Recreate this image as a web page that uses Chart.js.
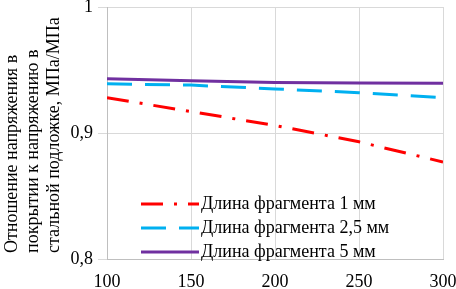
<!DOCTYPE html>
<html>
<head>
<meta charset="utf-8">
<script src="https://cdn.jsdelivr.net/npm/chart.js@4/dist/chart.umd.min.js"></script>
<style>
  html, body { margin: 0; padding: 0; background: #fff; }
  #wrap { width: 456px; height: 289px; position: relative; }
</style>
</head>
<body>
<div id="wrap"><canvas id="grafico"></canvas></div>
<script>
// длина участка, мм (ось X)
const x_vals = [100, 150, 200, 250, 300];
const serie_1mm = [0.928, 0.917, 0.906, 0.893, 0.877];
const serie_25mm = [0.939, 0.938, 0.935, 0.932, 0.928];
const serie_5mm = [0.943, 0.9415, 0.940, 0.9397, 0.9394];
const etiquetas = ["Длина фрагмента 1 мм", "Длина фрагмента 2,5 мм", "Длина фрагмента 5 мм"];
const titulo_y = ["Отношение напряжения в", "покрытии к напряжению в", "стальной подложке, МПа/МПа"];

const FUENTE = "Liberation Serif";
const TAM = 18;

const puntos = (ys) => x_vals.map((x, i) => ({ x: x, y: ys[i] }));

// leyenda dentro del área del gráfico + título del eje Y
const plugin_textos = {
  id: "textosPropios",
  afterDraw: (chart) => {
    const ctx = chart.ctx;
    const area = chart.chartArea;
    ctx.save();
    // título eje Y (rotado)
    ctx.font = TAM + "px '" + FUENTE + "'";
    ctx.fillStyle = "#000";
    ctx.textBaseline = "middle";
    ctx.textAlign = "left";
    titulo_y.forEach((linea, i) => {
      ctx.save();
      ctx.translate(12 + i * 21, 253);
      ctx.rotate(-Math.PI / 2);
      ctx.fillText(linea, 0, 0);
      ctx.restore();
    });
    // leyenda
    chart.data.datasets.forEach((ds, i) => {
      const y = 204 + i * 24;
      ctx.strokeStyle = ds.borderColor;
      ctx.lineWidth = ds.borderWidth;
      ctx.setLineDash(ds.borderDash || []);
      ctx.beginPath();
      ctx.moveTo(area.left + 34, y);
      ctx.lineTo(area.left + 92, y);
      ctx.stroke();
      ctx.setLineDash([]);
      ctx.fillStyle = "#000";
      ctx.fillText(ds.label, area.left + 94, y);
    });
    ctx.restore();
  },
};

function dibujar() {
  const ctx = document.getElementById("grafico").getContext("2d");
  new Chart(ctx, {
    type: "line",
    data: {
      datasets: [
        {
          label: etiquetas[0],
          data: puntos(serie_1mm),
          borderColor: "#ff0000",
          borderWidth: 3,
          borderDash: [22, 11, 3, 11],
          pointRadius: 0,
          fill: false,
        },
        {
          label: etiquetas[1],
          data: puntos(serie_25mm),
          borderColor: "#00b0f0",
          borderWidth: 3,
          borderDash: [25, 13],
          pointRadius: 0,
          fill: false,
        },
        {
          label: etiquetas[2],
          data: puntos(serie_5mm),
          borderColor: "#7030a0",
          borderWidth: 3,
          pointRadius: 0,
          fill: false,
        },
      ],
    },
    options: {
      responsive: true,
      maintainAspectRatio: false,
      animation: false,
      layout: { padding: { top: 7, right: 13, left: 0, bottom: 0 } },
      plugins: {
        legend: { display: false },
        tooltip: { enabled: false },
      },
      scales: {
        x: {
          type: "linear",
          min: 100,
          max: 300,
          ticks: {
            stepSize: 50,
            color: "#000",
            font: { family: FUENTE, size: TAM },
            padding: 12,
            maxRotation: 0,
          },
          grid: { color: "#d9d9d9", drawTicks: false },
          border: { color: "#bfbfbf" },
          afterFit: (scale) => {
            scale.height = 30;
            scale.paddingLeft = 0;
            scale.paddingRight = 0;
          },
        },
        y: {
          min: 0.8,
          max: 1,
          ticks: {
            stepSize: 0.1,
            color: "#000",
            font: { family: FUENTE, size: TAM },
            padding: 5,
            callback: (v) => String(Math.round(v * 10) / 10).replace(".", ","),
          },
          grid: { color: "#d9d9d9", tickLength: 9 },
          border: { color: "#bfbfbf" },
          afterFit: (scale) => {
            scale.width = 107;
            scale.paddingTop = 0;
            scale.paddingBottom = 0;
          },
        },
      },
    },
    plugins: [plugin_textos],
  });
}

document.fonts.load(TAM + "px '" + FUENTE + "'").then(dibujar, dibujar);
</script>
</body>
</html>
